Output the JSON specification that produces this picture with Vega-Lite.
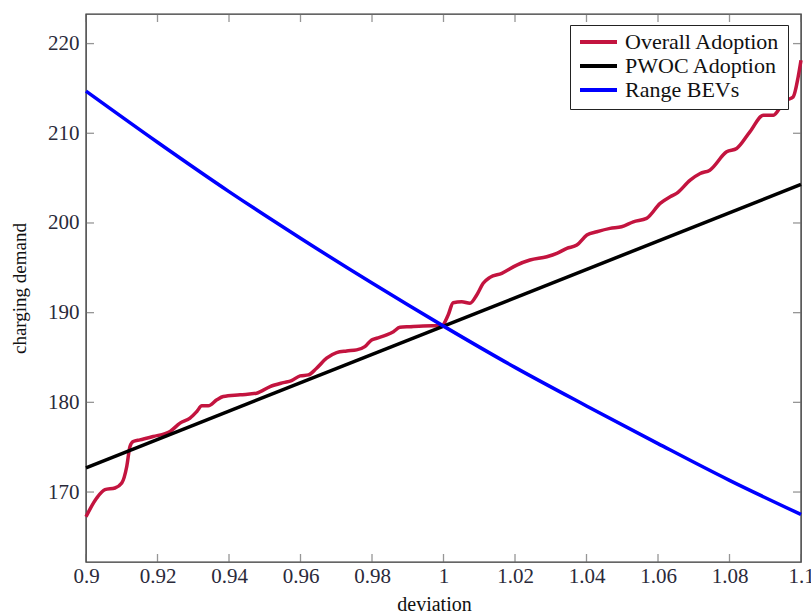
{
  "$schema": "https://vega.github.io/schema/vega-lite/v6.json",
  "width": 715,
  "height": 548,
  "autosize": "none",
  "padding": {"left": 86, "top": 14, "right": 10, "bottom": 52},
  "background": "white",
  "config": {
    "font": "Liberation Serif",
    "view": {"stroke": "#333", "strokeWidth": 1.4},
    "axis": {
      "domain": false,
      "ticks": false,
      "grid": false,
      "labelFont": "Liberation Serif",
      "labelFontSize": 21,
      "labelColor": "#2a2a3a",
      "titleFont": "Liberation Serif",
      "titleFontWeight": "normal",
      "titleFontSize": 20,
      "titleColor": "#111"
    }
  },
  "datasets": {
    "xticks": [
      {"t": 0.9}, {"t": 0.92}, {"t": 0.94}, {"t": 0.96}, {"t": 0.98}, {"t": 1.0},
      {"t": 1.02}, {"t": 1.04}, {"t": 1.06}, {"t": 1.08}, {"t": 1.1}
    ],
    "yticks": [
      {"v": 170}, {"v": 180}, {"v": 190}, {"v": 200}, {"v": 210}, {"v": 220}
    ],
    "curves": [
      {"series": "Overall Adoption", "deviation": 0.9000, "demand": 167.25},
      {"series": "Overall Adoption", "deviation": 0.9030, "demand": 169.33},
      {"series": "Overall Adoption", "deviation": 0.9053, "demand": 170.26},
      {"series": "Overall Adoption", "deviation": 0.9081, "demand": 170.45},
      {"series": "Overall Adoption", "deviation": 0.9100, "demand": 171.00},
      {"series": "Overall Adoption", "deviation": 0.9114, "demand": 172.85},
      {"series": "Overall Adoption", "deviation": 0.9123, "demand": 175.08},
      {"series": "Overall Adoption", "deviation": 0.9132, "demand": 175.63},
      {"series": "Overall Adoption", "deviation": 0.9151, "demand": 175.82},
      {"series": "Overall Adoption", "deviation": 0.9188, "demand": 176.19},
      {"series": "Overall Adoption", "deviation": 0.9235, "demand": 176.75},
      {"series": "Overall Adoption", "deviation": 0.9263, "demand": 177.68},
      {"series": "Overall Adoption", "deviation": 0.9291, "demand": 178.24},
      {"series": "Overall Adoption", "deviation": 0.9310, "demand": 178.98},
      {"series": "Overall Adoption", "deviation": 0.9324, "demand": 179.61},
      {"series": "Overall Adoption", "deviation": 0.9342, "demand": 179.61},
      {"series": "Overall Adoption", "deviation": 0.9366, "demand": 180.28},
      {"series": "Overall Adoption", "deviation": 0.9384, "demand": 180.65},
      {"series": "Overall Adoption", "deviation": 0.9431, "demand": 180.84},
      {"series": "Overall Adoption", "deviation": 0.9477, "demand": 181.02},
      {"series": "Overall Adoption", "deviation": 0.9515, "demand": 181.76},
      {"series": "Overall Adoption", "deviation": 0.9552, "demand": 182.20},
      {"series": "Overall Adoption", "deviation": 0.9575, "demand": 182.43},
      {"series": "Overall Adoption", "deviation": 0.9599, "demand": 182.95},
      {"series": "Overall Adoption", "deviation": 0.9622, "demand": 183.06},
      {"series": "Overall Adoption", "deviation": 0.9645, "demand": 183.81},
      {"series": "Overall Adoption", "deviation": 0.9673, "demand": 184.92},
      {"series": "Overall Adoption", "deviation": 0.9701, "demand": 185.55},
      {"series": "Overall Adoption", "deviation": 0.9729, "demand": 185.73},
      {"series": "Overall Adoption", "deviation": 0.9757, "demand": 185.85},
      {"series": "Overall Adoption", "deviation": 0.9780, "demand": 186.21},
      {"series": "Overall Adoption", "deviation": 0.9799, "demand": 186.96},
      {"series": "Overall Adoption", "deviation": 0.9813, "demand": 187.15},
      {"series": "Overall Adoption", "deviation": 0.9841, "demand": 187.52},
      {"series": "Overall Adoption", "deviation": 0.9860, "demand": 187.88},
      {"series": "Overall Adoption", "deviation": 0.9878, "demand": 188.37},
      {"series": "Overall Adoption", "deviation": 0.9906, "demand": 188.44},
      {"series": "Overall Adoption", "deviation": 0.9943, "demand": 188.52},
      {"series": "Overall Adoption", "deviation": 0.9995, "demand": 188.55},
      {"series": "Overall Adoption", "deviation": 1.0013, "demand": 189.74},
      {"series": "Overall Adoption", "deviation": 1.0027, "demand": 191.11},
      {"series": "Overall Adoption", "deviation": 1.0051, "demand": 191.22},
      {"series": "Overall Adoption", "deviation": 1.0074, "demand": 191.05},
      {"series": "Overall Adoption", "deviation": 1.0093, "demand": 191.97},
      {"series": "Overall Adoption", "deviation": 1.0111, "demand": 193.27},
      {"series": "Overall Adoption", "deviation": 1.0130, "demand": 193.94},
      {"series": "Overall Adoption", "deviation": 1.0163, "demand": 194.39},
      {"series": "Overall Adoption", "deviation": 1.0205, "demand": 195.31},
      {"series": "Overall Adoption", "deviation": 1.0242, "demand": 195.87},
      {"series": "Overall Adoption", "deviation": 1.0289, "demand": 196.24},
      {"series": "Overall Adoption", "deviation": 1.0317, "demand": 196.61},
      {"series": "Overall Adoption", "deviation": 1.0345, "demand": 197.17},
      {"series": "Overall Adoption", "deviation": 1.0373, "demand": 197.54},
      {"series": "Overall Adoption", "deviation": 1.0401, "demand": 198.65},
      {"series": "Overall Adoption", "deviation": 1.0429, "demand": 199.02},
      {"series": "Overall Adoption", "deviation": 1.0466, "demand": 199.40},
      {"series": "Overall Adoption", "deviation": 1.0498, "demand": 199.58},
      {"series": "Overall Adoption", "deviation": 1.0531, "demand": 200.13},
      {"series": "Overall Adoption", "deviation": 1.0568, "demand": 200.51},
      {"series": "Overall Adoption", "deviation": 1.0606, "demand": 202.18},
      {"series": "Overall Adoption", "deviation": 1.0634, "demand": 202.92},
      {"series": "Overall Adoption", "deviation": 1.0652, "demand": 203.30},
      {"series": "Overall Adoption", "deviation": 1.0690, "demand": 204.78},
      {"series": "Overall Adoption", "deviation": 1.0718, "demand": 205.52},
      {"series": "Overall Adoption", "deviation": 1.0745, "demand": 205.89},
      {"series": "Overall Adoption", "deviation": 1.0792, "demand": 207.93},
      {"series": "Overall Adoption", "deviation": 1.0820, "demand": 208.31},
      {"series": "Overall Adoption", "deviation": 1.0857, "demand": 210.16},
      {"series": "Overall Adoption", "deviation": 1.0895, "demand": 212.02},
      {"series": "Overall Adoption", "deviation": 1.0923, "demand": 212.02},
      {"series": "Overall Adoption", "deviation": 1.0946, "demand": 213.13},
      {"series": "Overall Adoption", "deviation": 1.0960, "demand": 213.69},
      {"series": "Overall Adoption", "deviation": 1.0978, "demand": 214.05},
      {"series": "Overall Adoption", "deviation": 1.0992, "demand": 216.28},
      {"series": "Overall Adoption", "deviation": 1.1000, "demand": 218.14},
      {"series": "PWOC Adoption", "deviation": 0.9, "demand": 172.7},
      {"series": "PWOC Adoption", "deviation": 1.1, "demand": 204.3},
      {"series": "Range BEVs", "deviation": 0.90, "demand": 214.7},
      {"series": "Range BEVs", "deviation": 0.92, "demand": 209.0},
      {"series": "Range BEVs", "deviation": 0.94, "demand": 203.5},
      {"series": "Range BEVs", "deviation": 0.96, "demand": 198.3},
      {"series": "Range BEVs", "deviation": 0.98, "demand": 193.3},
      {"series": "Range BEVs", "deviation": 1.00, "demand": 188.5},
      {"series": "Range BEVs", "deviation": 1.02, "demand": 183.9},
      {"series": "Range BEVs", "deviation": 1.04, "demand": 179.6},
      {"series": "Range BEVs", "deviation": 1.06, "demand": 175.4},
      {"series": "Range BEVs", "deviation": 1.08, "demand": 171.3},
      {"series": "Range BEVs", "deviation": 1.10, "demand": 167.5}
    ]
  },
  "layer": [
    {
      "data": {"name": "curves"},
      "mark": {"type": "line", "strokeWidth": 3.5, "interpolate": "monotone"},
      "encoding": {
        "x": {
          "field": "deviation", "type": "quantitative",
          "scale": {"domain": [0.9, 1.1], "nice": false, "zero": false},
          "axis": {
            "orient": "bottom",
            "values": [0.9, 0.92, 0.94, 0.96, 0.98, 1, 1.02, 1.04, 1.06, 1.08, 1.1],
            "format": "~g",
            "title": "deviation",
            "labelPadding": 3,
            "labelFlush": false,
            "titlePadding": 8,
            "titleX": 348
          }
        },
        "y": {
          "field": "demand", "type": "quantitative",
          "scale": {"domain": [162.2, 223.3], "nice": false, "zero": false},
          "axis": {
            "orient": "left",
            "values": [170, 180, 190, 200, 210, 220],
            "title": "charging demand",
            "titleFontSize": 19,
            "labelPadding": 7,
            "titlePadding": 18
          }
        },
        "color": {
          "field": "series", "type": "nominal",
          "scale": {
            "domain": ["Overall Adoption", "PWOC Adoption", "Range BEVs"],
            "range": ["#c3143f", "#000000", "#0000ff"]
          },
          "legend": {
            "title": null,
            "orient": "none",
            "legendX": 484,
            "legendY": 11,
            "symbolType": "stroke",
            "symbolStrokeWidth": 4,
            "symbolSize": 1369,
            "clipHeight": 18,
            "rowPadding": 2,
            "labelOffset": 6,
            "labelFont": "Liberation Serif",
            "labelFontSize": 22,
            "labelColor": "#111",
            "strokeColor": "#222",
            "fillColor": "white",
            "padding": 8
          }
        }
      }
    },
    {
      "data": {"name": "xticks"},
      "mark": {"type": "tick", "orient": "vertical", "size": 8, "thickness": 1.3, "color": "#6a6a6a", "yOffset": -4},
      "encoding": {
        "x": {"field": "t", "type": "quantitative", "axis": null},
        "y": {"datum": 162.2, "type": "quantitative", "axis": null}
      }
    },
    {
      "data": {"name": "xticks"},
      "mark": {"type": "tick", "orient": "vertical", "size": 8, "thickness": 1.3, "color": "#6a6a6a", "yOffset": 4},
      "encoding": {
        "x": {"field": "t", "type": "quantitative", "axis": null},
        "y": {"datum": 223.3, "type": "quantitative", "axis": null}
      }
    },
    {
      "data": {"name": "yticks"},
      "mark": {"type": "tick", "orient": "horizontal", "size": 8, "thickness": 1.3, "color": "#6a6a6a", "xOffset": 4},
      "encoding": {
        "y": {"field": "v", "type": "quantitative", "axis": null},
        "x": {"datum": 0.9, "type": "quantitative", "axis": null}
      }
    },
    {
      "data": {"name": "yticks"},
      "mark": {"type": "tick", "orient": "horizontal", "size": 8, "thickness": 1.3, "color": "#6a6a6a", "xOffset": -4},
      "encoding": {
        "y": {"field": "v", "type": "quantitative", "axis": null},
        "x": {"datum": 1.1, "type": "quantitative", "axis": null}
      }
    }
  ],
  "resolve": {"axis": {"x": "independent", "y": "independent"}}
}
